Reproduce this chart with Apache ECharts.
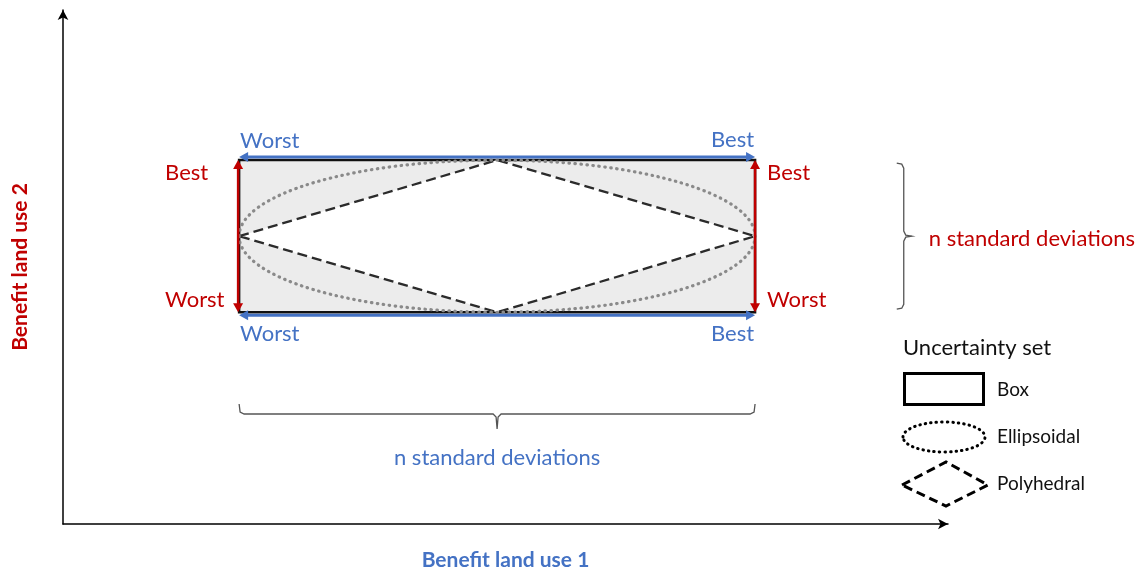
<!DOCTYPE html>
<html>
<head>
<meta charset="utf-8">
<script src="https://cdn.jsdelivr.net/npm/echarts@6/dist/echarts.min.js"></script>
<style>
html,body{margin:0;padding:0;background:#fff;}
#chart{width:1145px;height:572px;}
</style>
</head>
<body>
<div id="chart"></div>
<script>
// ---- data (axis units: 0..100 on both axes) ----
const axisRange = [0, 100];
const boxX = [19.9, 78.2];          // uncertainty box, Benefit land use 1 range
const boxY = [41.2, 70.8];          // uncertainty box, Benefit land use 2 range
const braceRightX = [95.0];         // x position of the vertical brace
const braceBottomY = [21.4];        // y position of the horizontal brace
const topBottomLabels = ['Worst', 'Best'];   // blue, along x
const sideLabels = ['Best', 'Worst'];        // red, along y (top, bottom)
const braceLabel = 'n standard deviations';
const xTitle = 'Benefit land use 1';
const yTitle = 'Benefit land use 2';
const legendTitle = 'Uncertainty set';
const legendItems = ['Box', 'Ellipsoidal', 'Polyhedral'];

const BLUE = '#4472C4', RED = '#C00000', FONT = 'Lato, "Liberation Sans", sans-serif';

function arrowHead(x, y, dx, dy, color, len, half) {
  const l = Math.hypot(dx, dy); const ux = dx / l, uy = dy / l;
  const bx = x - ux * len, by = y - uy * len;
  return { type: 'polygon', shape: { points: [[x, y], [bx - uy * half, by + ux * half], [bx + uy * half, by - ux * half]] }, style: { fill: color } };
}
function dblArrow(x1, y1, x2, y2, color, w) {
  const len = 9, half = 5;
  const l = Math.hypot(x2 - x1, y2 - y1); const ux = (x2 - x1) / l, uy = (y2 - y1) / l;
  return [
    { type: 'line', shape: { x1: x1 + ux * len * 0.8, y1: y1 + uy * len * 0.8, x2: x2 - ux * len * 0.8, y2: y2 - uy * len * 0.8 }, style: { stroke: color, lineWidth: w } },
    arrowHead(x2, y2, ux, uy, color, len, half),
    arrowHead(x1, y1, -ux, -uy, color, len, half)
  ];
}
function txt(x, y, text, color, size, align, weight) {
  return { type: 'text', x: x, y: y, style: { text: text, fill: color, font: (weight || 'normal') + ' ' + size + 'px ' + FONT, align: align || 'left', verticalAlign: 'middle' } };
}

const chart = echarts.init(document.getElementById('chart'));

const option = {
  animation: false,
  grid: { left: 63, right: 197, top: 10, bottom: 48, containLabel: false, outerBoundsMode: 'none' },
  xAxis: {
    type: 'value', min: axisRange[0], max: axisRange[1],
    name: xTitle, nameLocation: 'middle', nameGap: 26,
    nameTextStyle: { color: BLUE, fontWeight: 'bold', fontSize: 21, fontFamily: FONT },
    axisLine: { show: true, symbol: ['none', 'arrow'], symbolSize: [8, 10], lineStyle: { color: '#000', width: 1.5 } },
    axisTick: { show: false }, axisLabel: { show: false }, splitLine: { show: false }
  },
  yAxis: {
    type: 'value', min: axisRange[0], max: axisRange[1],
    name: yTitle, nameLocation: 'middle', nameGap: 32, nameRotate: 90,
    nameTextStyle: { color: RED, fontWeight: 'bold', fontSize: 21, fontFamily: FONT },
    axisLine: { show: true, symbol: ['none', 'arrow'], symbolSize: [8, 10], lineStyle: { color: '#000', width: 1.5 } },
    axisTick: { show: false }, axisLabel: { show: false }, splitLine: { show: false }
  },
  series: [
    {
      type: 'custom', coordinateSystem: 'cartesian2d',
      data: [[boxX[0], boxY[0], boxX[1], boxY[1], braceRightX[0], braceBottomY[0]]],
      encode: { x: [0, 2, 4], y: [1, 3, 5] },
      renderItem: function (params, api) {
        const p0 = api.coord([api.value(0), api.value(1)]);
        const p1 = api.coord([api.value(2), api.value(3)]);
        const L = p0[0], B = p0[1], R = p1[0], T = p1[1];
        const cx = (L + R) / 2, cy = (T + B) / 2;
        const bxp = api.coord([api.value(4), api.value(1)])[0];
        const byp = api.coord([api.value(0), api.value(5)])[1];
        const ch = [];
        // box fill + border
        ch.push({ type: 'rect', shape: { x: L, y: T, width: R - L, height: B - T }, style: { fill: '#ECECEC', stroke: '#111', lineWidth: 2.5 } });
        // polyhedral (diamond), white inside
        ch.push({ type: 'polygon', shape: { points: [[L, cy], [cx, T], [R, cy], [cx, B]] }, style: { fill: '#fff', stroke: '#2b2b2b', lineWidth: 2.3, lineDash: [10, 5] } });
        // ellipsoidal
        ch.push({ type: 'ellipse', shape: { cx: cx, cy: cy, rx: (R - L) / 2, ry: (B - T) / 2 }, style: { fill: 'none', stroke: '#8a8a8a', lineWidth: 3.2, lineDash: [0.5, 5.5], lineCap: 'round' } });
        // blue arrows (x)
        ch.push.apply(ch, dblArrow(L, T - 3, R, T - 3, BLUE, 3));
        ch.push.apply(ch, dblArrow(L, B + 3, R, B + 3, BLUE, 3));
        // red arrows (y)
        ch.push.apply(ch, dblArrow(L - 1, B, L - 1, T, RED, 2.5));
        ch.push.apply(ch, dblArrow(R, B, R, T, RED, 2.5));
        // labels
        ch.push(txt(L + 1, T - 19, topBottomLabels[0], BLUE, 22, 'left'));
        ch.push(txt(R - 1, T - 20, topBottomLabels[1], BLUE, 22, 'right'));
        ch.push(txt(L + 1, B + 22, topBottomLabels[0], BLUE, 22, 'left'));
        ch.push(txt(R - 1, B + 22, topBottomLabels[1], BLUE, 22, 'right'));
        ch.push(txt(L - 74, T + 13, sideLabels[0], RED, 22, 'left'));
        ch.push(txt(L - 74, B - 12, sideLabels[1], RED, 22, 'left'));
        ch.push(txt(R + 12, T + 13, sideLabels[0], RED, 22, 'left'));
        ch.push(txt(R + 12, B - 12, sideLabels[1], RED, 22, 'left'));
        // right brace
        const x0 = bxp - 7;
        ch.push({ type: 'polyline', shape: { points: [[x0, T + 3], [bxp - 2, T + 4], [bxp, T + 8], [bxp, cy - 5], [bxp + 2, cy - 1], [bxp + 8, cy], [bxp + 2, cy + 1], [bxp, cy + 5], [bxp, B - 8], [bxp - 2, B - 4], [x0, B - 3]] }, style: { fill: 'none', stroke: '#555', lineWidth: 1.3 } });
        ch.push(txt(bxp + 25, cy + 3, braceLabel, RED, 22, 'left'));
        // bottom brace
        const y0 = byp - 10;
        ch.push({ type: 'polyline', shape: { points: [[L, y0], [L + 1, byp - 2], [L + 5, byp], [cx - 4, byp], [cx - 1, byp + 3], [cx, byp + 15], [cx + 1, byp + 3], [cx + 4, byp], [R - 5, byp], [R - 1, byp - 2], [R, y0]] }, style: { fill: 'none', stroke: '#555', lineWidth: 1.3 } });
        ch.push(txt(cx, byp + 44, braceLabel, BLUE, 22, 'center'));
        return { type: 'group', children: ch };
      },
      silent: true, z: 5
    }
  ],
  graphic: [
    { type: 'text', left: 903, top: 337, style: { text: legendTitle, fill: '#111', font: 'normal 22px ' + FONT } },
    { type: 'rect', left: 903, top: 372, shape: { width: 79, height: 31 }, style: { fill: '#fff', stroke: '#000', lineWidth: 3 } },
    { type: 'text', left: 997, top: 380, style: { text: legendItems[0], fill: '#111', font: 'normal 19px ' + FONT } },
    { type: 'ellipse', shape: { cx: 944, cy: 437, rx: 41, ry: 15 }, style: { fill: 'none', stroke: '#000', lineWidth: 3, lineDash: [0.5, 5], lineCap: 'round' } },
    { type: 'text', left: 997, top: 427, style: { text: legendItems[1], fill: '#111', font: 'normal 19px ' + FONT } },
    { type: 'polygon', shape: { points: [[902, 485], [946, 462], [988, 485], [946, 506]] }, style: { fill: 'none', stroke: '#000', lineWidth: 3, lineDash: [9, 5] } },
    { type: 'text', left: 997, top: 474, style: { text: legendItems[2], fill: '#111', font: 'normal 19px ' + FONT } }
  ]
};
chart.setOption(option);
</script>
</body>
</html>
